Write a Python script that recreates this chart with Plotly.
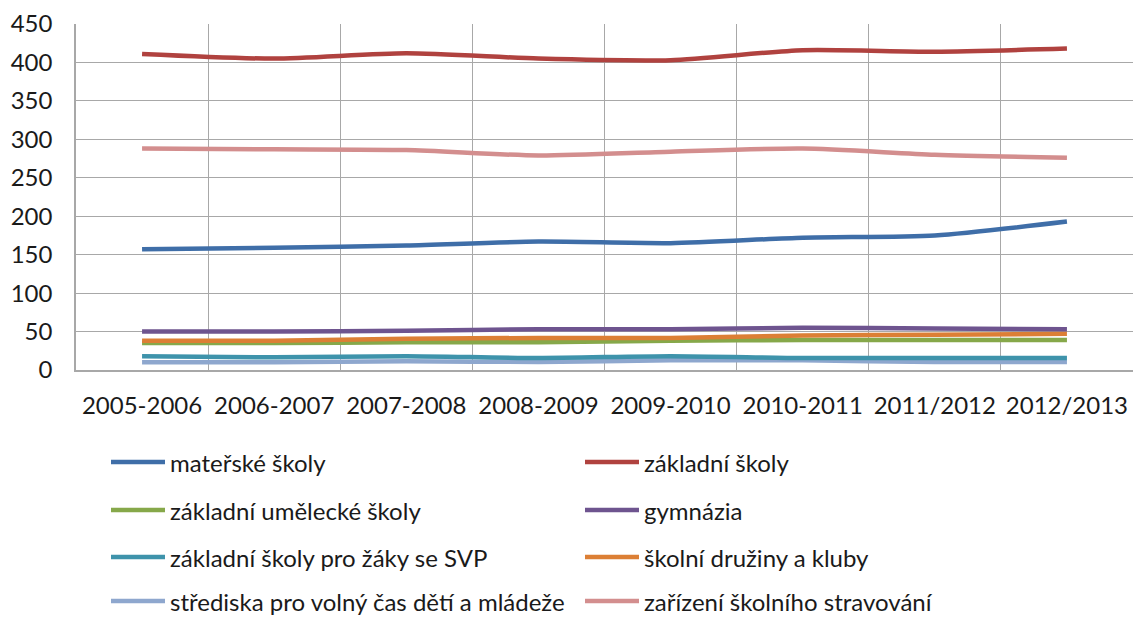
import plotly.graph_objects as go

# School years on the category axis
years = ["2005-2006", "2006-2007", "2007-2008", "2008-2009",
         "2009-2010", "2010-2011", "2011/2012", "2012/2013"]

# Number of facilities per school year, one list per type
materske_skoly = [157, 159, 162, 167, 165, 172, 175, 193]
zakladni_skoly = [411, 405, 412, 405, 403, 416, 414, 418]
zakladni_umelecke_skoly = [35, 35, 36, 36, 38, 39, 39, 39]
gymnazia = [50, 50, 51, 53, 53, 55, 54, 53]
zs_pro_zaky_se_svp = [18, 16.5, 18, 15.6, 18, 15.6, 15.6, 15.6]
skolni_druziny_a_kluby = [38, 38, 40.7, 41.6, 41.6, 45, 46, 47]
strediska_volneho_casu = [10, 10, 11.3, 10.4, 12.6, 12.6, 10.4, 10.4]
skolni_stravovani = [288, 287, 286, 279, 284, 288, 280, 276]

series_names = [
    "mateřské školy", "základní školy",
    "základní umělecké školy", "gymnázia",
    "základní školy pro žáky se SVP", "školní družiny a kluby",
    "střediska pro volný čas dětí a mládeže", "zařízení školního stravování",
]
series_values = [
    materske_skoly, zakladni_skoly,
    zakladni_umelecke_skoly, gymnazia,
    zs_pro_zaky_se_svp, skolni_druziny_a_kluby,
    strediska_volneho_casu, skolni_stravovani,
]
series_colors = [
    "#3F6EA8", "#B0423F",
    "#86A84A", "#6E548F",
    "#3E93AB", "#DC7F35",
    "#8EA7CE", "#D38E8E",
]

FONT = "Lato"
FONT_SIZE = 24
TEXT_COLOR = "#1a1a1a"
GRID = "#a8a8a8"

fig = go.Figure()

# Draw lower series first so the larger ones sit on top
draw_order = [6, 4, 2, 5, 3, 0, 7, 1]
for i in draw_order:
    fig.add_trace(go.Scatter(
        x=years, y=series_values[i], name=series_names[i],
        mode="lines",
        line=dict(color=series_colors[i], width=4.5, shape="spline", smoothing=0.7),
        showlegend=False,
    ))

# Hand-placed legend: two columns, four rows
plot_top, plot_bottom = 24, 370
plot_left, plot_right = 76, 1133
ph = plot_bottom - plot_top
pw = plot_right - plot_left

def px_x(px):
    return (px - plot_left) / pw

def px_y(py):
    return (plot_bottom - py) / ph

row_y = [462, 510, 557, 601]
col_x = [111, 585]
for k, name in enumerate(series_names):
    r, c = divmod(k, 2)
    x0 = col_x[c]
    y = row_y[r]
    fig.add_shape(type="line", xref="paper", yref="paper",
                  x0=px_x(x0), x1=px_x(x0 + 54), y0=px_y(y), y1=px_y(y),
                  line=dict(color=series_colors[k], width=4.5))
    fig.add_annotation(xref="paper", yref="paper",
                       x=px_x(x0 + 57), y=px_y(y), text=name,
                       xanchor="left", yanchor="middle", showarrow=False,
                       font=dict(family=FONT, size=FONT_SIZE, color=TEXT_COLOR))

fig.update_layout(
    width=1133, height=617,
    margin=dict(l=plot_left, r=1133 - plot_right, t=plot_top, b=617 - plot_bottom),
    paper_bgcolor="white", plot_bgcolor="white",
    font=dict(family=FONT, size=FONT_SIZE, color=TEXT_COLOR),
    showlegend=False,
)
fig.update_xaxes(
    type="category", range=[-0.5, 7.5],
    tickson="boundaries", showgrid=True, gridcolor=GRID, gridwidth=1.2,
    showline=True, linecolor=GRID, linewidth=1.5,
    ticks="", ticklabelstandoff=13,
    tickfont=dict(family=FONT, size=FONT_SIZE, color=TEXT_COLOR),
)
fig.update_yaxes(
    range=[0, 450], dtick=50, tick0=0,
    showgrid=True, gridcolor=GRID, gridwidth=1.2,
    showline=True, linecolor=GRID, linewidth=1.5,
    zeroline=False, ticks="", ticklabelstandoff=17,
    tickfont=dict(family=FONT, size=FONT_SIZE, color=TEXT_COLOR),
)

fig.write_html("out.html")
